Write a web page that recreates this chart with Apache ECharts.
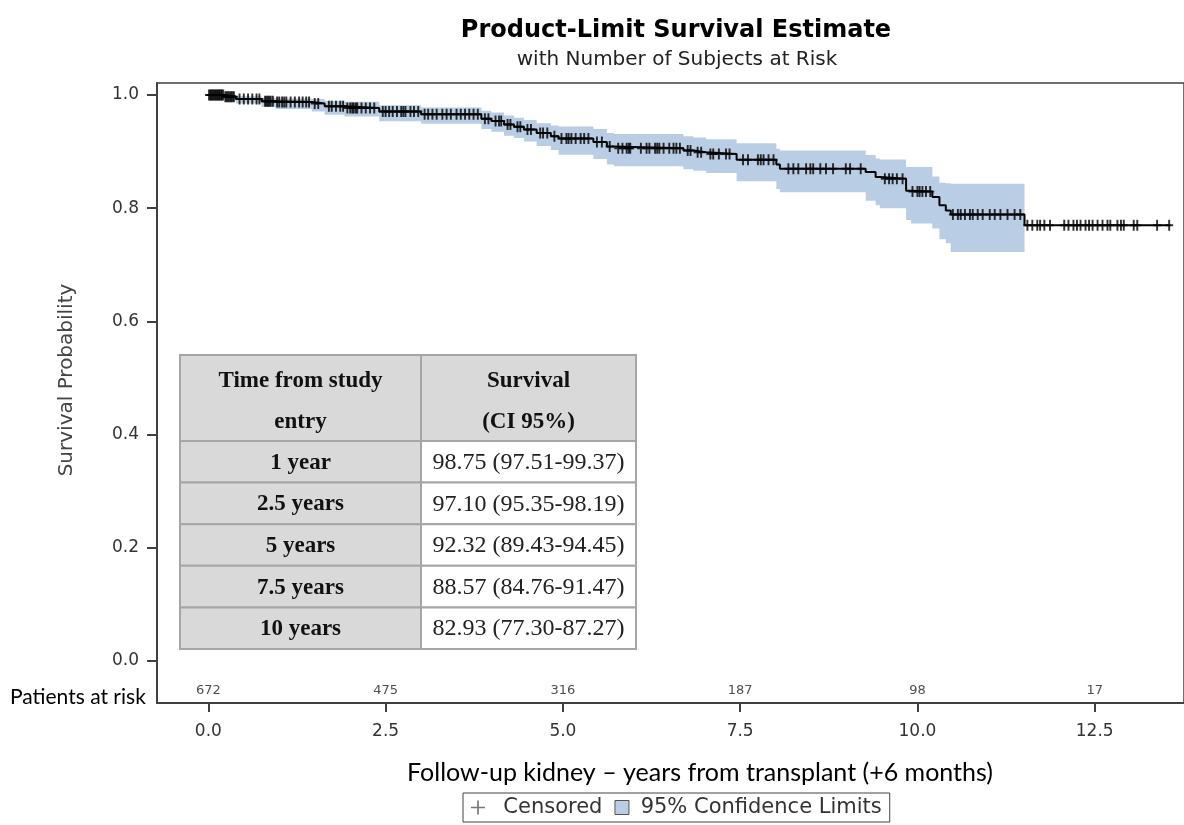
<!DOCTYPE html>
<html>
<head>
<meta charset="utf-8">
<script src="https://cdn.jsdelivr.net/npm/echarts@6/dist/echarts.min.js"></script>
<style>
  html, body { margin: 0; padding: 0; background: #ffffff; }
  #chart { width: 1184px; height: 825px; }
</style>
</head>
<body>
<div id="chart"></div>
<script>
// Kaplan-Meier estimate: event times (years) and survival after each step
const stepYears = [0, 0.23, 0.39, 0.75, 0.95, 1.46, 1.64, 1.92, 2.41, 3.0, 3.85, 3.99, 4.17, 4.31, 4.45, 4.63, 4.83, 4.94, 5.43, 5.62, 5.72, 6.70, 6.84, 7.02, 7.45, 8.01, 8.06, 9.27, 9.41, 9.47, 9.84, 9.91, 10.21, 10.31, 10.40, 10.47, 11.51];
const survival  = [1.0, 0.997, 0.993, 0.989, 0.9875, 0.985, 0.980, 0.977, 0.971, 0.966, 0.958, 0.954, 0.948, 0.944, 0.939, 0.933, 0.927, 0.9232, 0.917, 0.909, 0.906, 0.902, 0.899, 0.8957, 0.8857, 0.877, 0.8695, 0.864, 0.855, 0.852, 0.831, 0.8293, 0.820, 0.805, 0.796, 0.789, 0.770];
// 95% confidence limits at the same steps
const ciLower   = [1.0, 0.990, 0.985, 0.979, 0.9751, 0.971, 0.965, 0.962, 0.9535, 0.949, 0.940, 0.935, 0.928, 0.924, 0.918, 0.910, 0.903, 0.8943, 0.887, 0.877, 0.874, 0.869, 0.866, 0.862, 0.8476, 0.834, 0.828, 0.813, 0.805, 0.800, 0.779, 0.773, 0.764, 0.745, 0.738, 0.7225, 0.7225];
const ciUpper   = [1.0, 1.0, 0.998, 0.995, 0.9937, 0.993, 0.990, 0.988, 0.9819, 0.978, 0.972, 0.969, 0.964, 0.960, 0.956, 0.950, 0.946, 0.9445, 0.940, 0.933, 0.931, 0.927, 0.925, 0.922, 0.9147, 0.905, 0.902, 0.894, 0.888, 0.886, 0.873, 0.8727, 0.856, 0.845, 0.844, 0.843, 0.843];
const lastFollowUp = 13.57;

// censored observations (years)
const censorYears = [0.01, 0.03, 0.04, 0.06, 0.07, 0.09, 0.10, 0.12, 0.13, 0.15, 0.16, 0.18, 0.19, 0.21, 0.24, 0.26, 0.28, 0.30, 0.32, 0.34, 0.36, 0.44, 0.50, 0.56, 0.62, 0.68, 0.72, 0.80, 0.82, 0.84, 0.86, 0.88, 0.91, 0.97, 1.00, 1.04, 1.07, 1.10, 1.16, 1.22, 1.28, 1.33, 1.38, 1.42, 1.50, 1.55, 1.70, 1.74, 1.80, 1.86, 1.90, 1.96, 2.00, 2.03, 2.05, 2.08, 2.10, 2.16, 2.22, 2.28, 2.34, 2.46, 2.50, 2.55, 2.60, 2.66, 2.72, 2.75, 2.78, 2.85, 2.90, 2.96, 3.05, 3.10, 3.16, 3.22, 3.30, 3.36, 3.42, 3.50, 3.56, 3.62, 3.68, 3.74, 3.80, 3.90, 3.95, 4.05, 4.10, 4.13, 4.22, 4.26, 4.36, 4.40, 4.50, 4.55, 4.68, 4.72, 4.78, 4.88, 4.98, 5.05, 5.08, 5.12, 5.18, 5.25, 5.30, 5.36, 5.48, 5.55, 5.66, 5.78, 5.84, 5.90, 5.93, 5.95, 6.10, 6.18, 6.22, 6.30, 6.33, 6.36, 6.42, 6.50, 6.56, 6.60, 6.65, 6.76, 6.80, 6.90, 6.95, 7.08, 7.12, 7.20, 7.30, 7.35, 7.54, 7.61, 7.75, 7.79, 7.83, 7.90, 7.97, 8.18, 8.25, 8.32, 8.43, 8.49, 8.53, 8.63, 8.71, 8.81, 8.99, 9.05, 9.20, 9.54, 9.60, 9.65, 9.71, 9.79, 9.93, 10.00, 10.03, 10.07, 10.12, 10.18, 10.50, 10.57, 10.61, 10.67, 10.74, 10.78, 10.85, 10.92, 11.02, 11.09, 11.17, 11.27, 11.37, 11.45, 11.55, 11.62, 11.69, 11.73, 11.79, 11.87, 12.07, 12.13, 12.20, 12.25, 12.30, 12.37, 12.42, 12.47, 12.54, 12.61, 12.68, 12.72, 12.82, 12.87, 12.91, 13.05, 13.10, 13.38, 13.55];

// number at risk
const riskYears  = [0, 2.5, 5, 7.5, 10, 12.5];
const riskCounts = [672, 475, 316, 187, 98, 17];

// axis ticks
const xTicks = [0, 2.5, 5, 7.5, 10, 12.5];
const yTicks = [0, 0.2, 0.4, 0.6, 0.8, 1.0];

// summary table
const tableHeader = [['Time from study', 'entry'], ['Survival', '(CI 95%)']];
const tableTimes  = ['1 year', '2.5 years', '5 years', '7.5 years', '10 years'];
const tableValues = ['98.75 (97.51-99.37)', '97.10 (95.35-98.19)', '92.32 (89.43-94.45)', '88.57 (84.76-91.47)', '82.93 (77.30-87.27)'];

// ---- derived series ----
const survLine = stepYears.map((t, i) => [t, survival[i]]);
survLine.push([lastFollowUp, survival[survival.length - 1]]);
const bandData = stepYears.map((t, i) => [t, ciLower[i], ciUpper[i]]);

function survivalAt(t) {
  let s = survival[0];
  for (let i = 0; i < stepYears.length; i++) {
    if (stepYears[i] <= t) s = survival[i]; else break;
  }
  return s;
}
const censorPoints = censorYears.map(t => [t, survivalAt(t)]);
const RISK_ROW = -0.053;
const riskPoints = riskYears.map((t, i) => [t, RISK_ROW, riskCounts[i]]);

// plus marker for censored times (thick on the curve, thin in the legend)
const PLUS = 'path://M3.8,0H6.2V4.1H10V5.9H6.2V10H3.8V5.9H0V4.1H3.8Z';
const PLUS_LEGEND = 'path://M4.4,0H5.6V4.4H10V5.6H5.6V10H4.4V5.6H0V4.4H4.4Z';
const BAND = '#b9cde5';
const SANS = 'DejaVu Sans';

// stepped confidence band drawn as one polygon
function renderBand(params, api) {
  if (params.dataIndex !== 0) return null;
  const n = bandData.length;
  const pts = [];
  for (let i = 0; i < n - 1; i++) {
    pts.push(api.coord([bandData[i][0], bandData[i][2]]));
    pts.push(api.coord([bandData[i + 1][0], bandData[i][2]]));
  }
  for (let i = n - 2; i >= 0; i--) {
    pts.push(api.coord([bandData[i + 1][0], bandData[i][1]]));
    pts.push(api.coord([bandData[i][0], bandData[i][1]]));
  }
  return { type: 'polygon', shape: { points: pts }, style: { fill: BAND } };
}

// ---- table drawn as graphic elements ----
const T = { left: 180, top: 355, colW: [241, 215], headH: 86, rowH: 41.6 };
const tableEls = [];
const gridStroke = { stroke: '#a6a6a6', lineWidth: 2 };
function cell(x, y, w, h, fill) {
  tableEls.push({ type: 'rect', shape: { x, y, width: w, height: h }, style: Object.assign({ fill }, gridStroke), z: 100 });
}
function txt(x, y, text, bold) {
  tableEls.push({ type: 'text', x, y, z: 101,
    style: { text, fill: bold ? '#111' : '#222',
             font: (bold ? 'bold 23px ' : '24px ') + '"Liberation Serif", "Times New Roman", serif',
             textAlign: 'center', textVerticalAlign: 'middle', align: 'center', verticalAlign: 'middle' } });
}
const c0 = T.left, c1 = T.left + T.colW[0];
cell(c0, T.top, T.colW[0], T.headH, '#d9d9d9');
cell(c1, T.top, T.colW[1], T.headH, '#d9d9d9');
txt(c0 + T.colW[0] / 2, T.top + 26, tableHeader[0][0], true);
txt(c0 + T.colW[0] / 2, T.top + 67, tableHeader[0][1], true);
txt(c1 + T.colW[1] / 2, T.top + 26, tableHeader[1][0], true);
txt(c1 + T.colW[1] / 2, T.top + 67, tableHeader[1][1], true);
tableTimes.forEach((label, i) => {
  const y = T.top + T.headH + i * T.rowH;
  cell(c0, y, T.colW[0], T.rowH, '#d9d9d9');
  cell(c1, y, T.colW[1], T.rowH, '#ffffff');
  txt(c0 + T.colW[0] / 2, y + T.rowH / 2 + 1, label, true);
  txt(c1 + T.colW[1] / 2, y + T.rowH / 2 + 1, tableValues[i], false);
});

function plainText(x, y, text, font, fill, rotation) {
  return { type: 'text', x, y, rotation: rotation || 0, z: 50,
    style: { text, font, fill, textAlign: 'center', textVerticalAlign: 'middle', align: 'center', verticalAlign: 'middle' } };
}

const chart = echarts.init(document.getElementById('chart'), null, { renderer: 'canvas' });
chart.setOption({
  backgroundColor: '#ffffff',
  animation: false,
  grid: { left: 157, top: 83, right: -3, bottom: 122, show: true, borderColor: '#404040', borderWidth: 1.5, backgroundColor: 'transparent' },
  xAxis: {
    type: 'value', min: -0.724, max: 13.759,
    splitLine: { show: false },
    axisLine: { show: true, onZero: false, lineStyle: { color: '#404040', width: 2 } },
    axisTick: { show: true, length: 9, customValues: xTicks, lineStyle: { color: '#404040', width: 2 } },
    axisLabel: { customValues: xTicks, margin: 20, formatter: v => v.toFixed(1),
                 fontFamily: SANS, fontSize: 17, color: '#333' }
  },
  yAxis: {
    type: 'value', min: -0.0742, max: 1.0212,
    splitLine: { show: false },
    axisLine: { show: true, onZero: false, lineStyle: { color: '#404040', width: 2 } },
    axisTick: { show: true, length: 10, customValues: yTicks, lineStyle: { color: '#404040', width: 2 } },
    axisLabel: { customValues: yTicks, margin: 18, formatter: v => v.toFixed(1),
                 fontFamily: SANS, fontSize: 17, color: '#333' }
  },
  legend: {
    left: 463, top: 793, orient: 'horizontal', selectedMode: false,
    padding: [4, 8, 4, 8], borderColor: '#444', borderWidth: 1, borderRadius: 0,
    itemGap: 12, itemWidth: 14, itemHeight: 14,
    textStyle: { fontFamily: SANS, fontSize: 21, color: '#333' },
    formatter: name => (name === 'Censored' ? '  ' : ' ') + name,
    data: [
      { name: 'Censored', icon: PLUS_LEGEND, itemStyle: { color: '#555' } },
      { name: '95% Confidence Limits', icon: 'rect', itemStyle: { color: BAND, borderColor: '#555', borderWidth: 1 } }
    ]
  },
  graphic: [
    plainText(676, 31, 'Product-Limit Survival Estimate', 'bold 24px "DejaVu Sans", sans-serif', '#000'),
    plainText(677, 60, 'with Number of Subjects at Risk', '20px "DejaVu Sans", sans-serif', '#222'),
    plainText(67, 380, 'Survival Probability', '20px "DejaVu Sans", sans-serif', '#444', Math.PI / 2),
    plainText(700, 773, 'Follow-up kidney \u2013 years from transplant (+6 months)', '25px Lato, "Open Sans", sans-serif', '#000'),
    { type: 'text', x: 10, y: 697, z: 50,
      style: { text: 'Patients at risk', font: '21px Lato, "Open Sans", sans-serif', fill: '#000',
               textAlign: 'left', textVerticalAlign: 'middle', align: 'left', verticalAlign: 'middle' } }
  ].concat(tableEls),
  series: [
    { name: '95% Confidence Limits', type: 'custom', data: bandData, renderItem: renderBand,
      encode: { x: 0, y: [1, 2] }, itemStyle: { color: BAND }, silent: true, z: 1 },
    { name: 'Survival', type: 'line', step: 'end', data: survLine, showSymbol: false,
      lineStyle: { color: '#000', width: 2 }, itemStyle: { color: '#000' }, z: 3 },
    { name: 'Censored', type: 'scatter', data: censorPoints, symbol: PLUS, symbolSize: [8, 11],
      itemStyle: { color: '#000' }, z: 4 },
    { name: 'At risk', type: 'scatter', data: riskPoints, symbolSize: 1,
      itemStyle: { color: 'rgba(0,0,0,0)' }, z: 4,
      label: { show: true, position: 'inside', formatter: p => String(p.value[2]),
               fontFamily: SANS, fontSize: 13, color: '#222' } }
  ]
});
</script>
</body>
</html>
